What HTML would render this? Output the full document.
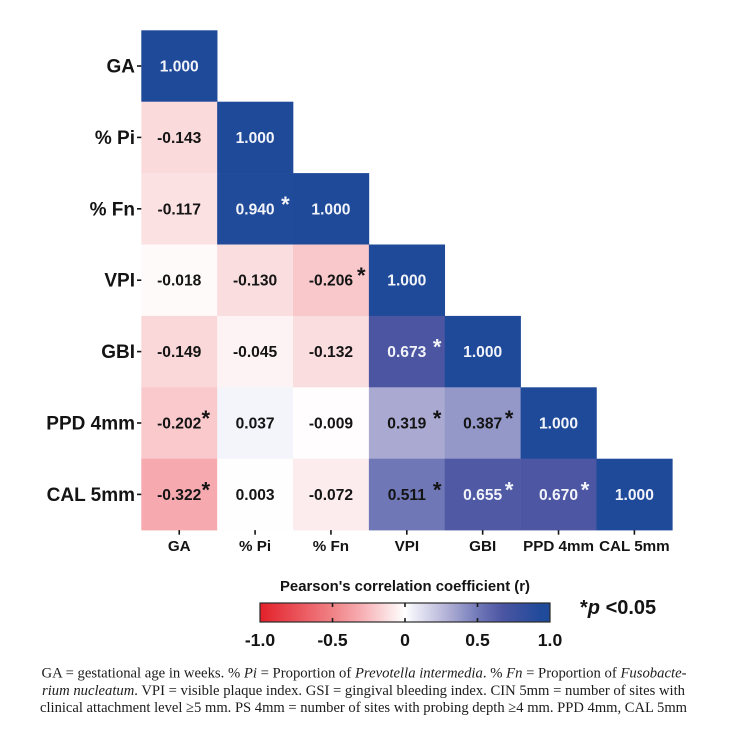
<!DOCTYPE html>
<html lang="en">
<head>
<meta charset="utf-8">
<title>Pearson correlation heatmap</title>
<style>
html,body{margin:0;padding:0;background:#fff;width:731px;height:749px;overflow:hidden}
svg{display:block}
text{font-family:"Liberation Sans",Arial,sans-serif;font-weight:bold;fill:#141414}
.cap{font-family:"Liberation Serif","Times New Roman",serif;font-weight:normal;font-size:15px;fill:#1c1c1c}
.cap .it{font-style:italic}
</style>
</head>
<body>
<svg id="chart" xmlns="http://www.w3.org/2000/svg" width="731" height="749" viewBox="0 0 731 749">
  <defs>
    <linearGradient id="cbar-grad" x1="0" x2="1" y1="0" y2="0"></linearGradient>
  </defs>
  <g id="cells"></g>
  <g id="labels"></g>
  <g id="y-axis"></g>
  <g id="x-axis"></g>
  <text x="405" y="591" text-anchor="middle" font-size="14.5" textLength="250" lengthAdjust="spacingAndGlyphs">Pearson's correlation coefficient (r)</text>
  <g id="colorbar"></g>
  <text x="580" y="614" font-size="20">*<tspan font-style="italic">p</tspan> &lt;0.05</text>
  <g>
    <text class="cap" x="41.5" y="677.5" textLength="645" lengthAdjust="spacingAndGlyphs">GA = gestational age in weeks. % <tspan class="it">Pi</tspan> = Proportion of <tspan class="it">Prevotella intermedia</tspan>. % <tspan class="it">Fn</tspan> = Proportion of <tspan class="it">Fusobacte-</tspan></text>
    <text class="cap" x="42" y="695" textLength="643" lengthAdjust="spacingAndGlyphs"><tspan class="it">rium nucleatum</tspan>. VPI = visible plaque index. GSI = gingival bleeding index. CIN 5mm = number of sites with</text>
    <text class="cap" x="40" y="712" textLength="647" lengthAdjust="spacingAndGlyphs">clinical attachment level ≥5 mm. PS 4mm = number of sites with probing depth ≥4 mm. PPD 4mm, CAL 5mm</text>
  </g>
</svg>
<script>
const categories = ["GA", "% Pi", "% Fn", "VPI", "GBI", "PPD 4mm", "CAL 5mm"];
const rowGA = [1.000];
const rowPi = [-0.143, 1.000];
const rowFn = [-0.117, 0.940, 1.000];
const rowVPI = [-0.018, -0.130, -0.206, 1.000];
const rowGBI = [-0.149, -0.045, -0.132, 0.673, 1.000];
const rowPPD = [-0.202, 0.037, -0.009, 0.319, 0.387, 1.000];
const rowCAL = [-0.322, 0.003, -0.072, 0.511, 0.655, 0.670, 1.000];
const rows = [rowGA, rowPi, rowFn, rowVPI, rowGBI, rowPPD, rowCAL];
const significant = ["2,1", "3,2", "4,3", "5,0", "5,3", "5,4", "6,0", "6,3", "6,4", "6,5"];
const colorbarTicks = [-1, -0.5, 0, 0.5, 1];
const colorbarTickLabels = ["-1.0", "-0.5", "0", "0.5", "1.0"];
const scaleValues = [-1, -0.5, -0.322, -0.202, -0.143, 0, 0.037, 0.319, 0.387, 0.511, 0.673, 0.94, 1];
const scaleColors = ["#e3202a", "#f08286", "#f6a9ae", "#f9c9cc", "#fadadb", "#ffffff", "#f4f4fb", "#aaa9d2", "#9498c9", "#6f77b7", "#4b55a2", "#204a9a", "#1f4a9a"];

const NS = "http://www.w3.org/2000/svg";
const gridLeft = 141.3, gridTop = 30.3, cellW = 75.86, cellH = 71.4;
const barLeft = 260, barRight = 550, barTop = 603, barBottom = 622;
const xBand = i => gridLeft + i * cellW;
const yBand = i => gridTop + i * cellH;
const barX = v => barLeft + (v + 1) / 2 * (barRight - barLeft);

function mk(tag, attrs, parent, txt) {
  const el = document.createElementNS(NS, tag);
  for (const k in attrs) el.setAttribute(k, attrs[k]);
  if (txt !== undefined) el.textContent = txt;
  parent.appendChild(el);
  return el;
}
function hexRgb(h) {
  return [1, 3, 5].map(i => parseInt(h.substr(i, 2), 16));
}
function colorFor(v) {
  const c = Math.max(-1, Math.min(1, v));
  for (let i = 1; i < scaleValues.length; i++) {
    if (c <= scaleValues[i]) {
      const t = (c - scaleValues[i - 1]) / (scaleValues[i] - scaleValues[i - 1]);
      const a = hexRgb(scaleColors[i - 1]), b = hexRgb(scaleColors[i]);
      return "rgb(" + a.map((x, j) => Math.round(x + (b[j] - x) * t)).join(",") + ")";
    }
  }
  return scaleColors[scaleColors.length - 1];
}
function starOffset(col) {
  return (col === 0 || col >= 4) ? 26.5 : 30.3;
}

const cellsG = document.getElementById("cells");
const labelsG = document.getElementById("labels");
rows.forEach((row, r) => {
  row.forEach((v, c) => {
    const rect = mk("rect", {x: xBand(c), y: yBand(r), width: cellW + 0.3, height: cellH + 0.3, fill: colorFor(v)}, cellsG);
    
    
    const cx = xBand(c) + cellW / 2, cy = yBand(r) + cellH / 2;
    const col = v > 0.6 ? "#f2f4fa" : "#141414";
    const t = mk("text", {x: cx, y: cy + 5.5, "text-anchor": "middle", "font-size": 15.6, style: "fill:" + col}, labelsG, v.toFixed(3));
    
    
    if (significant.includes(r + "," + c)) {
      const s = mk("text", {x: cx + starOffset(c), y: cy + 3, "text-anchor": "middle", "font-size": 22, style: "fill:" + col}, labelsG, "*");
      
      
    }
  });
});

const yG = document.getElementById("y-axis");
const xG = document.getElementById("x-axis");
const axisBottom = yBand(categories.length);
categories.forEach((name, i) => {
  const cy = yBand(i) + cellH / 2;
  const yl = mk("text", {x: 135, y: cy + 6.5, "text-anchor": "end", "font-size": 19}, yG, name);
  
  
  const yt = mk("line", {x1: 137, x2: 141.3, y1: cy, y2: cy, stroke: "#141414", "stroke-width": 1.6}, yG);
  
  
  const cx = xBand(i) + cellW / 2;
  const xt = mk("line", {x1: cx, x2: cx, y1: axisBottom, y2: axisBottom + 4.6, stroke: "#141414", "stroke-width": 1.6}, xG);
  
  
  const xl = mk("text", {x: cx, y: 551, "text-anchor": "middle", "font-size": 15.2}, xG, name);
  
  
});

const grad = document.getElementById("cbar-grad");
scaleValues.forEach((v, i) => {
  mk("stop", {offset: (v + 1) / 2, "stop-color": scaleColors[i]}, grad);
});
const cb = document.getElementById("colorbar");
const bar = mk("rect", {x: barLeft, y: barTop, width: barRight - barLeft, height: barBottom - barTop, fill: "url(#cbar-grad)", stroke: "#2a2a2a", "stroke-width": 1.2}, cb);


colorbarTicks.forEach((v, i) => {
  const x = barX(v);
  if (i > 0 && i < colorbarTicks.length - 1) {
    const t1 = mk("line", {x1: x, x2: x, y1: barTop, y2: barTop + 4, stroke: "#1a1a1a", "stroke-width": 1.6}, cb);
    
    
    const t2 = mk("line", {x1: x, x2: x, y1: barBottom - 4, y2: barBottom, stroke: "#1a1a1a", "stroke-width": 1.6}, cb);
    
    
  }
  const l = mk("text", {x: x, y: 646, "text-anchor": "middle", "font-size": 17.6}, cb, colorbarTickLabels[i]);
  
  
});
</script>
</body>
</html>
